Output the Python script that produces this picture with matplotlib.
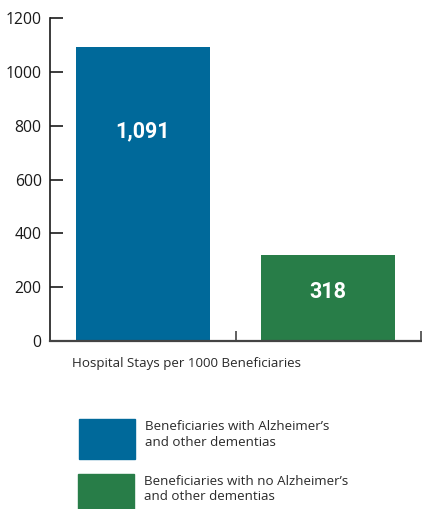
import matplotlib.pyplot as plt
from matplotlib.patches import Rectangle

# data
groups = ["Beneficiaries with Alzheimer\u2019s\nand other dementias",
          "Beneficiaries with no Alzheimer\u2019s\nand other dementias"]
stays = [1091, 318]
value_labels = ["1,091", "318"]
colors = ["#00699a", "#287d48"]
y_ticks = [0, 200, 400, 600, 800, 1000, 1200]
x_title = "Hospital Stays per 1000 Beneficiaries"

# where the numbers sit inside the bars (layout only)
label_y = [780, 182]

plt.rcParams['font.family'] = ['Open Sans', 'DejaVu Sans']

fig = plt.figure(figsize=(4.22, 5.09), dpi=100)
ax = fig.add_axes([50 / 422, 1 - 341 / 509, 371 / 422, 323 / 509])

x = range(len(stays))
ax.bar(x, stays, width=0.72, color=colors, zorder=2)
for i, (lab, ly) in enumerate(zip(value_labels, label_y)):
    ax.text(i, ly, lab, ha='center', va='center', color='white',
            fontsize=15.5, fontweight='bold', family=['Roboto', 'DejaVu Sans'])

ax.set_xlim(-0.5, 1.5)
ax.set_ylim(0, 1200)
ax.set_yticks(y_ticks)
ax.set_xticks([0.5, 1.5])
ax.set_xticklabels([])
ax.tick_params(axis='y', direction='in', length=9, width=1.2,
               labelsize=11.3, colors='#1a1a1a', pad=6)
ax.tick_params(axis='x', direction='in', length=7, width=1.2, colors='#444444')
for s in ['top', 'right']:
    ax.spines[s].set_visible(False)
ax.spines['left'].set_linewidth(1.2)
ax.spines['left'].set_color('#1a1a1a')
ax.spines['bottom'].set_linewidth(1.6)
ax.spines['bottom'].set_color('#444444')

fig.text(72 / 422, 1 - 364 / 509, x_title, ha='left', va='center',
         fontsize=9.6, color='#2a2a2a')

# legend drawn by hand
legend_boxes = [(79, 419, 56, 40), (78, 474, 56, 36)]
legend_text_x = [145, 144]
for (bx, by, bw, bh), c, g, tx in zip(legend_boxes, colors, groups, legend_text_x):
    fig.patches.append(Rectangle((bx / 422, 1 - (by + bh) / 509), bw / 422, bh / 509,
                                 transform=fig.transFigure, color=c, zorder=1))
    fig.text(tx / 422, 1 - (by + 1) / 509, g, ha='left', va='top',
             fontsize=9.6, color='#2a2a2a', linespacing=1.25)

plt.savefig('out.png', dpi=100)
plt.close()
